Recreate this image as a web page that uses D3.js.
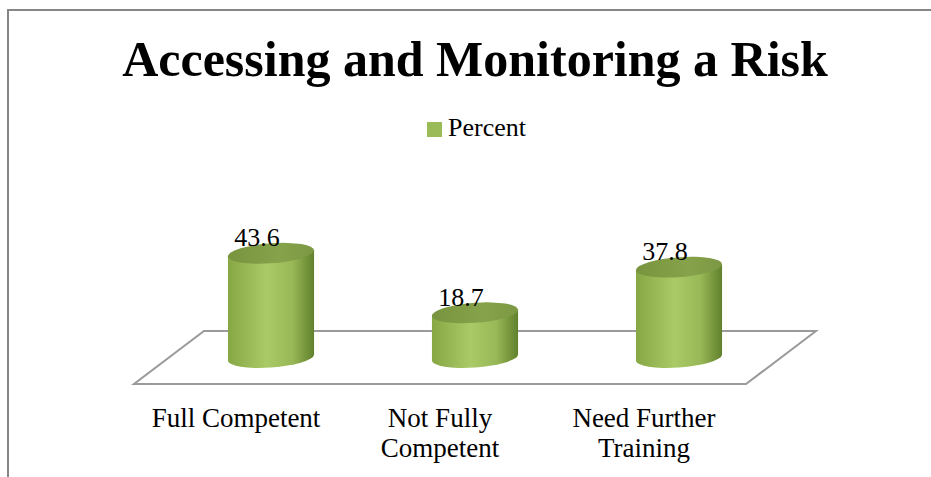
<!DOCTYPE html>
<html>
<head>
<meta charset="utf-8">
<script src="https://cdn.jsdelivr.net/npm/d3@7"></script>
<style>
  body { margin: 0; background: #fff; }
  text { font-family: "Liberation Serif", "DejaVu Serif", serif; fill: #000; }
</style>
</head>
<body>
<div id="chart"></div>
<script>
// data
const categories = ["Full Competent", "Not Fully Competent", "Need Further Training"];
const values = [43.6, 18.7, 37.8];
const seriesName = "Percent";
const title = "Accessing and Monitoring a Risk";

const W = 931, H = 477;
const depth = { dx: 70, dy: 53 };   // floor depth, front to back

let svg = d3.select("#chart")
  .append("svg")
  .attr("width", W)
  .attr("height", H);

/* ------------------ gradients ------------------ */
let defs = svg.append("defs");
let bodyGrad = defs.append("linearGradient").attr("id", "bodyGrad");
[["0%", "#87a745"], ["45%", "#a9ca66"], ["75%", "#98b857"], ["100%", "#61802c"]]
  .forEach(s => bodyGrad.append("stop").attr("offset", s[0]).attr("stop-color", s[1]));
let topGrad = defs.append("linearGradient").attr("id", "topGrad");
[["0%", "#78943e"], ["60%", "#86a24a"], ["100%", "#7c9843"]]
  .forEach(s => topGrad.append("stop").attr("offset", s[0]).attr("stop-color", s[1]));

/* ------------------ frame ------------------ */
svg.append("path")
  .attr("d", `M8,${H + 5} L8,10 L${W + 5},10`)
  .attr("fill", "none")
  .attr("stroke", "#868686")
  .attr("stroke-width", 2);

/* ------------------ title + legend ------------------ */
svg.append("text")
  .attr("x", 475)
  .attr("y", 76)
  .attr("text-anchor", "middle")
  .style("font-size", "50px")
  .style("font-weight", "bold")
  .text(title);

let legend = svg.append("g").attr("transform", "translate(427,122)");
legend.append("rect")
  .attr("width", 15)
  .attr("height", 15)
  .attr("fill", "#9bbb59");
legend.append("text")
  .attr("x", 21)
  .attr("y", 14)
  .style("font-size", "26px")
  .text(seriesName);

/* ------------------ scales ------------------ */
let x = d3.scaleBand()
  .domain(categories)
  .range([169, 781])
  .paddingInner(0.578)
  .paddingOuter(0.289);

let y = d3.scaleLinear()
  .domain([0, 50])
  .range([357.5, 238]);

/* ------------------ floor ------------------ */
let [r0, r1] = x.range();
let y0 = y(0);
let floor = [
  [r0 + depth.dx / 2, y0 - depth.dy / 2],
  [r1 + depth.dx / 2, y0 - depth.dy / 2],
  [r1 - depth.dx / 2, y0 + depth.dy / 2],
  [r0 - depth.dx / 2, y0 + depth.dy / 2]
];
svg.append("polygon")
  .attr("points", floor.map(p => p.join(",")).join(" "))
  .attr("fill", "#fff")
  .attr("stroke", "#9a9a9a")
  .attr("stroke-width", 2);

/* ------------------ cylinders ------------------ */
let rx = x.bandwidth() / 2, ry = 10;

let bars = svg.selectAll("g.bar")
  .data(values)
  .enter()
  .append("g")
  .attr("class", "bar")
  .attr("transform", (d, i) => `translate(${x(categories[i]) + rx},0) skewY(-4)`);

bars.append("path")
  .attr("d", d => `M${-rx},${y(d)} L${-rx},${y(0)} A${rx},${ry} 0 0 0 ${rx},${y(0)} L${rx},${y(d)} Z`)
  .attr("fill", "url(#bodyGrad)");

bars.append("ellipse")
  .attr("cx", 0)
  .attr("cy", d => y(d))
  .attr("rx", rx)
  .attr("ry", ry)
  .attr("fill", "url(#topGrad)");

// value labels
svg.selectAll("text.value")
  .data(values)
  .enter()
  .append("text")
  .attr("class", "value")
  .attr("x", (d, i) => x(categories[i]) + rx - 14)
  .attr("y", d => y(d) - 7)
  .attr("text-anchor", "middle")
  .style("font-size", "26px")
  .text(d => d);

/* ------------------ category labels ------------------ */
let cats = svg.selectAll("text.cat")
  .data(categories)
  .enter()
  .append("text")
  .attr("class", "cat")
  .attr("x", d => x(d) + rx - depth.dx / 2)
  .attr("y", 427)
  .attr("text-anchor", "middle")
  .style("font-size", "27px");

// wrap labels wider than the slot
cats.each(function (d) {
  let t = d3.select(this);
  let words = d.split(" ");
  let lines = [], line = [];
  words.forEach(w => {
    line.push(w);
    t.text(line.join(" "));
    if (this.getComputedTextLength() > 190 && line.length > 1) {
      line.pop();
      lines.push(line.join(" "));
      line = [w];
    }
  });
  lines.push(line.join(" "));
  t.text(null);
  lines.forEach((l, k) => {
    t.append("tspan")
      .attr("x", t.attr("x"))
      .attr("dy", k ? 30 : 0)
      .text(l);
  });
});
</script>
</body>
</html>
